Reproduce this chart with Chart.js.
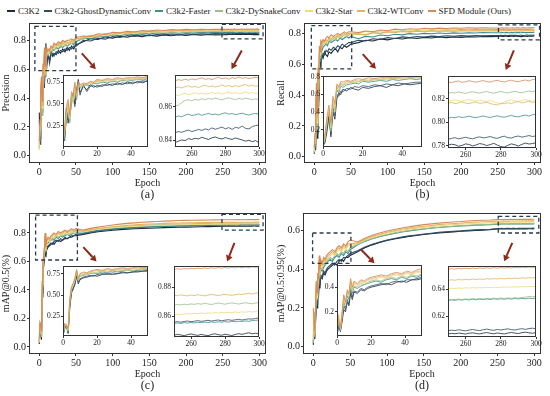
<!DOCTYPE html>
<html>
<head>
<meta charset="utf-8">
<script src="https://cdn.jsdelivr.net/npm/chart.js@4.4.1/dist/chart.umd.min.js"></script>
<style>
  body { margin: 0; width: 550px; height: 396px; background: #fff; position: relative; overflow: hidden;
         font-family: "Liberation Serif", "Times New Roman", serif; color: #222; }
  canvas { position: absolute; }
  #legend { position: absolute; left: 7px; top: 6px; display: flex; font-size: 9px; white-space: nowrap; }
  #legend .item { display: flex; align-items: center; margin-right: 4px; }
  #legend i { display: inline-block; width: 8px; height: 2px; margin-right: 3px; }
  .cap { position: absolute; font-size: 12px; transform: translateX(-50%); }
</style>
</head>
<body>
<div id="legend"></div>
<script>
// epochs sampled along the curves
const EPOCHS = [0,1,2,3,4,5,6,7,8,9,10,12,14,16,18,20,23,26,29,32,35,38,41,44,47,50,
  60,70,80,90,100,110,120,130,140,150,160,170,180,190,200,210,220,230,240,
  250,252,254,256,258,260,262,264,266,268,270,272,274,276,278,280,282,284,286,288,290,292,294,296,298,300];

const SERIES = ['C3K2', 'C3k2-GhostDynamicConv', 'C3k2-Faster', 'C3k2-DySnakeConv', 'C3k2-Star', 'C3k2-WTConv', 'SFD Module (Ours)'];
const COLORS = ['#1c2a3a', '#2f4b66', '#3e8e8c', '#9bbf8a', '#eed97c', '#e3b462', '#d68a58'];

// (a) Precision
const precC3K2 = [0.30,0.12,0.45,0.28,0.40,0.55,0.62,0.50,0.66,0.78,0.63,0.70,0.66,0.72,0.69,0.71,0.70,0.73,0.71,0.74,0.72,0.75,0.73,0.76,0.74,0.77,
  0.79,0.812,0.806,0.824,0.815,0.828,0.821,0.834,0.826,0.836,0.829,0.838,0.832,0.839,0.834,0.841,0.836,0.84,0.838,
  0.8385,0.8395,0.8402,0.8398,0.841,0.8405,0.8412,0.8408,0.8418,0.8411,0.8405,0.8415,0.842,0.8412,0.8408,0.8416,0.841,0.8405,0.8414,0.8408,0.8402,0.8395,0.840,0.8392,0.8398,0.8385];
const precGhost = [0.25,0.08,0.40,0.32,0.35,0.52,0.58,0.47,0.64,0.76,0.60,0.72,0.64,0.70,0.71,0.69,0.72,0.71,0.73,0.72,0.74,0.73,0.75,0.74,0.76,0.76,
  0.80,0.795,0.815,0.808,0.826,0.82,0.833,0.827,0.838,0.832,0.84,0.836,0.844,0.839,0.845,0.841,0.846,0.843,0.847,
  0.8445,0.8452,0.8448,0.8455,0.8461,0.8452,0.8458,0.8465,0.8459,0.8468,0.8462,0.8474,0.8466,0.8472,0.8479,0.8468,0.8476,0.8465,0.8478,0.8472,0.8485,0.8471,0.8468,0.8482,0.8488,0.8492];
const precFaster = [0.05,0.15,0.30,0.42,0.30,0.58,0.52,0.66,0.55,0.70,0.68,0.71,0.72,0.70,0.74,0.73,0.75,0.74,0.76,0.75,0.77,0.76,0.77,0.78,0.77,0.79,
  0.815,0.81,0.828,0.822,0.837,0.832,0.844,0.838,0.848,0.843,0.851,0.847,0.853,0.849,0.854,0.851,0.856,0.852,0.855,
  0.8538,0.8545,0.8541,0.855,0.8556,0.8548,0.8552,0.8558,0.8549,0.8555,0.8561,0.8553,0.8557,0.8551,0.8559,0.8564,0.8556,0.856,0.8553,0.8558,0.8562,0.8555,0.8551,0.8557,0.856,0.8556];
const precDySnake = [0.06,0.20,0.35,0.50,0.28,0.60,0.55,0.68,0.58,0.72,0.70,0.73,0.71,0.74,0.73,0.76,0.74,0.77,0.75,0.78,0.76,0.78,0.77,0.79,0.78,0.80,
  0.81,0.826,0.822,0.838,0.834,0.847,0.842,0.852,0.848,0.856,0.851,0.858,0.855,0.861,0.857,0.862,0.859,0.863,0.861,
  0.8605,0.861,0.8625,0.8638,0.8642,0.8636,0.8645,0.864,0.8648,0.8643,0.865,0.8645,0.8652,0.8646,0.8641,0.8649,0.8654,0.8647,0.8643,0.865,0.8645,0.8652,0.8648,0.8642,0.8647,0.8644];
const precStar = [0.04,0.18,0.38,0.45,0.33,0.62,0.50,0.70,0.60,0.68,0.72,0.70,0.74,0.73,0.75,0.74,0.77,0.75,0.78,0.76,0.78,0.77,0.79,0.78,0.80,0.80,
  0.826,0.82,0.838,0.832,0.848,0.843,0.853,0.849,0.858,0.854,0.862,0.857,0.864,0.861,0.866,0.863,0.867,0.865,0.868,
  0.8672,0.8668,0.8676,0.8681,0.8673,0.8678,0.8684,0.8677,0.8682,0.8675,0.868,0.8686,0.8679,0.8684,0.8676,0.8682,0.8688,0.868,0.8685,0.8678,0.8683,0.8689,0.8681,0.8686,0.8679,0.8684];
const precWT = [0.08,0.22,0.42,0.52,0.35,0.58,0.63,0.72,0.56,0.74,0.69,0.73,0.72,0.75,0.74,0.77,0.76,0.78,0.77,0.79,0.78,0.79,0.78,0.80,0.79,0.81,
  0.818,0.834,0.829,0.847,0.842,0.855,0.85,0.86,0.856,0.864,0.861,0.868,0.864,0.87,0.867,0.872,0.869,0.873,0.871,
  0.8712,0.8718,0.8713,0.872,0.8726,0.8717,0.8722,0.8715,0.8724,0.8729,0.872,0.8725,0.8718,0.8723,0.8731,0.8722,0.8727,0.8719,0.8726,0.8721,0.8728,0.8733,0.8724,0.8729,0.8722,0.8727];
const precSFD = [0.10,0.25,0.48,0.55,0.38,0.64,0.60,0.75,0.62,0.76,0.72,0.74,0.73,0.76,0.75,0.78,0.77,0.79,0.78,0.80,0.79,0.80,0.80,0.81,0.80,0.82,
  0.83,0.826,0.845,0.84,0.856,0.852,0.862,0.858,0.867,0.864,0.871,0.868,0.874,0.871,0.876,0.873,0.877,0.875,0.877,
  0.8755,0.8762,0.8758,0.8765,0.8759,0.8767,0.8761,0.8768,0.8773,0.8764,0.8769,0.8762,0.8771,0.8776,0.8767,0.8772,0.8765,0.8774,0.8769,0.8778,0.877,0.8775,0.8768,0.8773,0.8777,0.8771];

// (b) Recall
const recC3K2 = [0.02,0.05,0.18,0.35,0.12,0.40,0.32,0.55,0.62,0.60,0.66,0.64,0.68,0.66,0.65,0.68,0.67,0.69,0.70,0.68,0.71,0.70,0.72,0.71,0.72,0.73,
  0.74,0.755,0.75,0.764,0.758,0.768,0.763,0.771,0.767,0.774,0.77,0.776,0.772,0.777,0.774,0.779,0.776,0.78,0.779,
  0.7805,0.7812,0.7808,0.7795,0.7802,0.7815,0.781,0.7798,0.7806,0.7818,0.7812,0.7801,0.7809,0.782,0.7805,0.7792,0.7788,0.7803,0.7815,0.7808,0.7797,0.7811,0.7822,0.7814,0.7818,0.7825];
const recGhost = [0.03,0.08,0.22,0.38,0.15,0.45,0.36,0.60,0.58,0.64,0.63,0.67,0.66,0.69,0.68,0.70,0.69,0.71,0.70,0.72,0.71,0.73,0.72,0.73,0.74,0.74,
  0.755,0.75,0.765,0.76,0.772,0.767,0.777,0.772,0.78,0.776,0.782,0.779,0.784,0.781,0.785,0.783,0.786,0.784,0.786,
  0.7855,0.7862,0.7868,0.7858,0.7865,0.7872,0.7864,0.7858,0.7869,0.7875,0.7866,0.7871,0.7878,0.7868,0.7862,0.7874,0.7881,0.7868,0.7865,0.7876,0.7882,0.7873,0.7879,0.7886,0.7878,0.7884];
const recFaster = [0.02,0.10,0.25,0.30,0.20,0.50,0.42,0.65,0.62,0.70,0.68,0.71,0.72,0.73,0.72,0.75,0.74,0.75,0.76,0.75,0.77,0.76,0.77,0.78,0.77,0.78,
  0.765,0.78,0.776,0.789,0.784,0.794,0.79,0.798,0.794,0.8,0.797,0.802,0.799,0.803,0.801,0.804,0.802,0.805,0.804,
  0.8035,0.8042,0.8038,0.8048,0.8041,0.8045,0.8052,0.8044,0.8039,0.8047,0.8054,0.8046,0.8041,0.8049,0.8055,0.8047,0.8043,0.8051,0.8058,0.8049,0.8046,0.8055,0.8061,0.8052,0.8064,0.8068];
const recDySnake = [0.04,0.12,0.28,0.42,0.18,0.48,0.45,0.68,0.64,0.72,0.70,0.73,0.74,0.73,0.75,0.76,0.75,0.77,0.76,0.78,0.77,0.78,0.79,0.78,0.79,0.79,
  0.795,0.79,0.806,0.801,0.812,0.808,0.816,0.813,0.819,0.816,0.821,0.819,0.823,0.821,0.824,0.823,0.825,0.824,0.826,
  0.8248,0.8255,0.8249,0.8258,0.8252,0.8246,0.8255,0.8261,0.8253,0.8249,0.8257,0.8262,0.8254,0.8248,0.8256,0.8263,0.8255,0.825,0.8258,0.8264,0.8256,0.8252,0.826,0.8266,0.8262,0.8268];
const recStar = [0.03,0.09,0.30,0.45,0.22,0.52,0.40,0.70,0.66,0.71,0.72,0.74,0.73,0.75,0.74,0.76,0.77,0.76,0.78,0.77,0.78,0.79,0.78,0.79,0.80,0.79,
  0.80,0.812,0.806,0.815,0.809,0.817,0.812,0.818,0.814,0.819,0.815,0.82,0.816,0.82,0.817,0.82,0.818,0.82,0.819,
  0.8188,0.8182,0.8191,0.8185,0.8179,0.8188,0.8194,0.8186,0.8181,0.819,0.8183,0.8177,0.8186,0.8175,0.8168,0.8155,0.8172,0.8184,0.8191,0.8182,0.8176,0.8187,0.8193,0.8185,0.8179,0.8192];
const recWT = [0.05,0.14,0.32,0.40,0.25,0.55,0.48,0.66,0.70,0.73,0.71,0.75,0.74,0.76,0.75,0.77,0.76,0.78,0.77,0.79,0.78,0.79,0.80,0.79,0.80,0.80,
  0.796,0.79,0.804,0.799,0.809,0.805,0.812,0.808,0.814,0.81,0.815,0.812,0.816,0.813,0.817,0.815,0.817,0.816,0.817,
  0.8162,0.8171,0.8158,0.8166,0.8175,0.8163,0.8158,0.8169,0.8174,0.8161,0.8166,0.8172,0.816,0.8152,0.8148,0.8162,0.8158,0.8167,0.8159,0.8171,0.8177,0.8165,0.8172,0.8181,0.8168,0.8174];
const recSFD = [0.06,0.15,0.35,0.48,0.28,0.58,0.50,0.72,0.68,0.75,0.74,0.76,0.75,0.77,0.78,0.77,0.79,0.78,0.79,0.80,0.79,0.80,0.81,0.80,0.81,0.81,
  0.805,0.815,0.81,0.822,0.817,0.827,0.823,0.83,0.827,0.832,0.829,0.834,0.831,0.835,0.833,0.836,0.834,0.836,0.835,
  0.8345,0.8338,0.8348,0.8352,0.8341,0.8346,0.8355,0.8348,0.8342,0.835,0.8356,0.8347,0.8343,0.8352,0.8358,0.8349,0.8344,0.8353,0.8359,0.835,0.8346,0.8355,0.8361,0.8352,0.8365,0.8368];

// (c) mAP@0.5
const map50C3K2 = [0.02,0.12,0.14,0.05,0.35,0.52,0.58,0.62,0.72,0.63,0.68,0.70,0.71,0.72,0.73,0.72,0.74,0.75,0.74,0.75,0.76,0.76,0.77,0.77,0.78,0.78,
  0.79,0.80,0.808,0.814,0.819,0.823,0.826,0.829,0.831,0.833,0.835,0.837,0.838,0.84,0.841,0.842,0.843,0.844,0.845,
  0.8472,0.8478,0.8474,0.8469,0.8476,0.8481,0.8475,0.8471,0.8478,0.8473,0.8469,0.8477,0.8482,0.8476,0.8472,0.8479,0.8474,0.847,0.8477,0.8483,0.8478,0.8484,0.8489,0.8482,0.8486,0.8481];
const map50Ghost = [0.03,0.10,0.15,0.06,0.38,0.55,0.56,0.64,0.74,0.65,0.69,0.71,0.72,0.73,0.72,0.74,0.75,0.74,0.76,0.75,0.77,0.76,0.77,0.78,0.78,0.79,
  0.795,0.806,0.814,0.821,0.826,0.83,0.834,0.837,0.839,0.842,0.844,0.846,0.847,0.849,0.85,0.851,0.852,0.853,0.854,
  0.8562,0.8565,0.8561,0.8566,0.8569,0.8564,0.8568,0.8572,0.8567,0.857,0.8574,0.8569,0.8573,0.8576,0.8571,0.8575,0.8578,0.8574,0.8577,0.8581,0.8576,0.858,0.8584,0.8582,0.8587,0.859];
const map50Faster = [0.04,0.14,0.12,0.08,0.40,0.56,0.60,0.66,0.76,0.66,0.72,0.73,0.74,0.75,0.76,0.75,0.77,0.76,0.78,0.77,0.78,0.79,0.78,0.79,0.80,0.80,
  0.80,0.81,0.818,0.824,0.829,0.833,0.836,0.839,0.841,0.843,0.845,0.847,0.848,0.85,0.851,0.852,0.853,0.854,0.855,
  0.8552,0.8556,0.8553,0.8558,0.8555,0.8559,0.8556,0.8561,0.8558,0.8562,0.8559,0.8563,0.856,0.8564,0.8561,0.8565,0.8562,0.8567,0.8564,0.8568,0.8566,0.857,0.8567,0.8572,0.8574,0.8576];
const map50DySnake = [0.05,0.15,0.13,0.07,0.42,0.58,0.62,0.68,0.78,0.68,0.73,0.74,0.75,0.76,0.75,0.77,0.78,0.77,0.79,0.78,0.79,0.80,0.79,0.80,0.81,0.81,
  0.81,0.82,0.828,0.834,0.839,0.843,0.847,0.85,0.852,0.855,0.857,0.859,0.861,0.862,0.863,0.865,0.866,0.867,0.868,
  0.8678,0.8682,0.8679,0.8684,0.8681,0.8686,0.8683,0.8688,0.8684,0.869,0.8686,0.8682,0.8687,0.8692,0.8688,0.8684,0.8689,0.8693,0.8689,0.8685,0.869,0.8694,0.869,0.8687,0.8692,0.8695];
const map50Star = [0.03,0.13,0.16,0.09,0.44,0.57,0.61,0.67,0.77,0.67,0.72,0.75,0.74,0.76,0.77,0.76,0.78,0.79,0.78,0.79,0.80,0.79,0.80,0.81,0.80,0.81,
  0.808,0.818,0.826,0.832,0.837,0.841,0.844,0.847,0.849,0.851,0.853,0.855,0.856,0.857,0.858,0.859,0.86,0.861,0.862,
  0.8612,0.8616,0.8613,0.8618,0.8621,0.8617,0.8622,0.8619,0.8624,0.862,0.8625,0.8622,0.8627,0.8623,0.8628,0.8625,0.8629,0.8626,0.8631,0.8627,0.8632,0.8629,0.8634,0.8631,0.8636,0.8638];
const map50WT = [0.04,0.16,0.14,0.10,0.45,0.59,0.63,0.69,0.79,0.69,0.74,0.76,0.75,0.77,0.78,0.79,0.78,0.80,0.79,0.80,0.81,0.80,0.81,0.82,0.81,0.82,
  0.812,0.823,0.831,0.838,0.844,0.849,0.853,0.857,0.86,0.863,0.865,0.867,0.869,0.87,0.871,0.872,0.873,0.874,0.874,
  0.8746,0.8742,0.8748,0.8744,0.8741,0.8747,0.8743,0.8749,0.8745,0.8741,0.8746,0.8751,0.8747,0.8743,0.8748,0.8752,0.8748,0.8744,0.8749,0.8753,0.875,0.8755,0.8758,0.8754,0.8759,0.8762];
const map50SFD = [0.06,0.17,0.15,0.11,0.46,0.60,0.64,0.70,0.80,0.70,0.75,0.77,0.76,0.78,0.79,0.80,0.79,0.81,0.80,0.81,0.82,0.81,0.82,0.83,0.82,0.83,
  0.82,0.832,0.841,0.849,0.856,0.862,0.867,0.871,0.875,0.878,0.88,0.883,0.885,0.887,0.888,0.889,0.89,0.891,0.892,
  0.8922,0.8926,0.8923,0.8928,0.8925,0.8929,0.8926,0.893,0.8927,0.8932,0.8928,0.8933,0.8929,0.8934,0.893,0.8935,0.8931,0.8936,0.8932,0.8937,0.8933,0.8938,0.8934,0.8939,0.8936,0.894];

// (d) mAP@0.5:0.95
const mapC3K2 = [0.01,0.10,0.04,0.12,0.22,0.20,0.28,0.25,0.35,0.30,0.36,0.35,0.38,0.37,0.39,0.40,0.41,0.42,0.43,0.42,0.44,0.45,0.44,0.46,0.46,0.47,
  0.49,0.51,0.525,0.537,0.547,0.555,0.562,0.568,0.573,0.578,0.582,0.586,0.589,0.592,0.595,0.597,0.599,0.601,0.603,
  0.6068,0.6072,0.6069,0.6074,0.6071,0.6067,0.6073,0.6076,0.6071,0.6068,0.6074,0.6078,0.6073,0.6069,0.6075,0.6071,0.6068,0.6074,0.6079,0.6074,0.6071,0.6077,0.6081,0.6076,0.6073,0.6078];
const mapGhost = [0.02,0.08,0.05,0.14,0.25,0.22,0.30,0.26,0.38,0.32,0.37,0.36,0.39,0.38,0.40,0.41,0.42,0.43,0.42,0.44,0.45,0.44,0.46,0.46,0.47,0.48,
  0.495,0.514,0.528,0.54,0.55,0.558,0.565,0.571,0.576,0.581,0.585,0.589,0.592,0.595,0.597,0.6,0.602,0.604,0.605,
  0.6092,0.6096,0.6093,0.6099,0.6095,0.6091,0.6097,0.6101,0.6096,0.6093,0.6099,0.6104,0.6098,0.6095,0.6101,0.6097,0.6102,0.6106,0.61,0.6097,0.6103,0.6107,0.6102,0.6108,0.6111,0.6106];
const mapFaster = [0.03,0.12,0.06,0.16,0.28,0.24,0.33,0.30,0.40,0.35,0.40,0.39,0.41,0.42,0.43,0.44,0.45,0.44,0.46,0.47,0.46,0.48,0.47,0.49,0.48,0.50,
  0.525,0.543,0.556,0.567,0.576,0.584,0.591,0.597,0.602,0.607,0.611,0.614,0.617,0.62,0.622,0.624,0.626,0.628,0.629,
  0.6318,0.6322,0.6319,0.6324,0.6321,0.6325,0.6322,0.6327,0.6323,0.6328,0.6324,0.6329,0.6325,0.633,0.6326,0.6331,0.6327,0.6332,0.6328,0.6333,0.6329,0.6334,0.633,0.6335,0.6332,0.6336];
const mapDySnake = [0.02,0.14,0.05,0.18,0.30,0.26,0.35,0.31,0.42,0.36,0.41,0.40,0.43,0.42,0.44,0.45,0.46,0.45,0.47,0.48,0.47,0.49,0.48,0.50,0.49,0.51,
  0.527,0.545,0.558,0.569,0.578,0.586,0.593,0.599,0.604,0.608,0.612,0.616,0.619,0.621,0.624,0.626,0.628,0.629,0.631,
  0.6322,0.6326,0.6324,0.6328,0.6325,0.6329,0.6327,0.6331,0.6328,0.6332,0.6329,0.6333,0.6331,0.6335,0.6332,0.6336,0.6333,0.6337,0.6334,0.6338,0.6336,0.634,0.6342,0.6348,0.6345,0.635];
const mapStar = [0.04,0.15,0.07,0.17,0.32,0.25,0.36,0.33,0.44,0.37,0.43,0.41,0.44,0.43,0.45,0.46,0.47,0.48,0.47,0.49,0.50,0.49,0.51,0.50,0.52,0.52,
  0.532,0.55,0.564,0.575,0.585,0.593,0.6,0.606,0.611,0.615,0.619,0.623,0.626,0.629,0.631,0.634,0.636,0.637,0.639,
  0.6406,0.6409,0.6407,0.6411,0.6408,0.6412,0.641,0.6413,0.6411,0.6414,0.6412,0.6416,0.6413,0.6417,0.6414,0.6418,0.6416,0.6419,0.6417,0.642,0.6418,0.6421,0.6419,0.6423,0.6421,0.6424];
const mapWT = [0.05,0.18,0.06,0.19,0.33,0.27,0.37,0.34,0.45,0.38,0.44,0.42,0.45,0.44,0.46,0.47,0.48,0.49,0.48,0.50,0.51,0.50,0.52,0.51,0.53,0.53,
  0.535,0.554,0.568,0.58,0.59,0.598,0.605,0.611,0.617,0.621,0.625,0.629,0.632,0.635,0.637,0.64,0.642,0.644,0.645,
  0.6468,0.6472,0.6469,0.6474,0.6471,0.6475,0.6472,0.6477,0.6474,0.6478,0.6475,0.648,0.6477,0.6481,0.6478,0.6482,0.6479,0.6484,0.6481,0.6485,0.6482,0.6487,0.6484,0.6488,0.6486,0.649];
const mapSFD = [0.20,0.12,0.08,0.20,0.34,0.28,0.38,0.35,0.47,0.40,0.45,0.43,0.46,0.45,0.47,0.48,0.49,0.50,0.49,0.51,0.52,0.51,0.53,0.52,0.54,0.55,
  0.54,0.559,0.574,0.586,0.596,0.604,0.612,0.618,0.624,0.629,0.633,0.637,0.64,0.643,0.645,0.648,0.65,0.652,0.653,
  0.6551,0.6555,0.6552,0.6557,0.6554,0.6558,0.6555,0.6559,0.6556,0.656,0.6557,0.6561,0.6558,0.6562,0.6559,0.6563,0.656,0.6564,0.6561,0.6565,0.6562,0.6566,0.6563,0.6567,0.6565,0.6568];

// layout of the four panels (page pixel boxes of the plot areas)
const PANELS = [
  { vals: [precC3K2, precGhost, precFaster, precDySnake, precStar, precWT, precSFD],
    ytitle: 'Precision', cap: '(a)', left: 0, top: 20, box: {l: 29, t: 23, r: 266, b: 163}, y: [-0.05, 0.92],
    rects: [[-6, 0.59, 50, 0.896], [249, 0.81, 305, 0.91]], arrows: [[58, 0.71, 77, 0.60], [276, 0.73, 262, 0.60]],
    insets: [{box: {l: 63, t: 75, r: 148, b: 147}, x: [0, 50], y: [0.01, 0.83], step: 0.25, dec: 2},
             {box: {l: 175, t: 75, r: 259, b: 147}, x: [250, 300], y: [0.836, 0.879], step: 0.02, dec: 2}] },
  { vals: [recC3K2, recGhost, recFaster, recDySnake, recStar, recWT, recSFD],
    ytitle: 'Recall', cap: '(b)', left: 275, top: 20, box: {l: 304, t: 23, r: 541, b: 163}, y: [-0.04, 0.867],
    rects: [[-4, 0.57, 51, 0.85], [251, 0.758, 307, 0.855]], arrows: [[66, 0.665, 84, 0.57], [272, 0.69, 261, 0.563]],
    insets: [{box: {l: 323, t: 76, r: 422, b: 147}, x: [0, 50], y: [0.005, 0.81], step: 0.2, dec: 1},
             {box: {l: 448, t: 76, r: 536, b: 148}, x: [250, 300], y: [0.778, 0.8395], step: 0.02, dec: 2}] },
  { vals: [map50C3K2, map50Ghost, map50Faster, map50DySnake, map50Star, map50WT, map50SFD],
    ytitle: 'mAP@0.5(%)', cap: '(c)', left: 0, top: 200, box: {l: 29, t: 213, r: 266, b: 354}, y: [-0.05, 0.94],
    rects: [[-5, 0.61, 52, 0.925], [249, 0.82, 305, 0.93]], arrows: [[60, 0.70, 78, 0.60], [266, 0.73, 256, 0.60]],
    insets: [{box: {l: 63, t: 266, r: 148, b: 336}, x: [0, 50], y: [0.02, 0.84], step: 0.25, dec: 2},
             {box: {l: 174, t: 266, r: 259, b: 337}, x: [250, 300], y: [0.846, 0.8945], step: 0.02, dec: 2}] },
  { vals: [mapC3K2, mapGhost, mapFaster, mapDySnake, mapStar, mapWT, mapSFD],
    ytitle: 'mAP@0.5:0.95(%)', cap: '(d)', left: 275, top: 200, box: {l: 303, t: 213, r: 541, b: 354}, y: [-0.037, 0.689],
    rects: [[-1, 0.43, 51, 0.586], [251, 0.586, 306, 0.672]], arrows: [[65, 0.50, 83, 0.43], [270, 0.535, 259, 0.44]],
    insets: [{box: {l: 337, t: 265, r: 422, b: 336}, x: [0, 50], y: [0.005, 0.58], step: 0.2, dec: 1},
             {box: {l: 448, t: 266, r: 536, b: 337}, x: [250, 300], y: [0.6045, 0.6575], step: 0.02, dec: 2}] }
];

PANELS.forEach(p => p.vals.forEach((v, i) => {
  if (v.length !== EPOCHS.length) throw new Error(p.cap + ' ' + SERIES[i] + ' has ' + v.length);
}));

const FONT = '"Liberation Serif", "Times New Roman", serif';
const INK = '#222';

// legend
const legend = document.getElementById('legend');
SERIES.forEach((s, i) => {
  const it = document.createElement('span');
  it.className = 'item';
  it.innerHTML = '<i style="background:' + COLORS[i] + '"></i>' + s;
  legend.appendChild(it);
});

function makeCanvas(box, pad) {
  const c = document.createElement('canvas');
  const w = box.r - box.l + pad.l + pad.r, h = box.b - box.t + pad.t + pad.b;
  c.width = w; c.height = h;
  c.style.left = (box.l - pad.l) + 'px'; c.style.top = (box.t - pad.t) + 'px';
  c.style.width = w + 'px'; c.style.height = h + 'px';
  document.body.appendChild(c);
  return c;
}

function datasets(vals, width) {
  return vals.map((v, i) => ({
    label: SERIES[i],
    data: EPOCHS.map((e, k) => ({x: e, y: v[k]})),
    borderColor: COLORS[i], borderWidth: width,
    pointRadius: 0, tension: 0, fill: false,
    order: SERIES.length - 1 - i
  }));
}

// frame, white plot background, dashed zoom boxes and arrows
const framePlugin = {
  id: 'frame',
  beforeDatasetsDraw(chart, args, o) {
    if (!o.white) return;
    const a = chart.chartArea, ctx = chart.ctx;
    ctx.save(); ctx.fillStyle = '#fff'; ctx.fillRect(a.left, a.top, a.right - a.left, a.bottom - a.top); ctx.restore();
  },
  afterDatasetsDraw(chart, args, o) {
    const ctx = chart.ctx, sx = chart.scales.x, sy = chart.scales.y;
    ctx.save();
    (o.rects || []).forEach(r => {
      const x0 = sx.getPixelForValue(r[0]), x1 = sx.getPixelForValue(r[2]);
      const y0 = sy.getPixelForValue(r[3]), y1 = sy.getPixelForValue(r[1]);
      ctx.strokeStyle = '#2b3a4e'; ctx.lineWidth = 1.3; ctx.setLineDash([4, 3]);
      ctx.strokeRect(x0, y0, x1 - x0, y1 - y0);
    });
    ctx.setLineDash([]);
    (o.arrows || []).forEach(r => {
      const x0 = sx.getPixelForValue(r[0]), y0 = sy.getPixelForValue(r[1]);
      const x1 = sx.getPixelForValue(r[2]), y1 = sy.getPixelForValue(r[3]);
      const ang = Math.atan2(y1 - y0, x1 - x0), hl = 6, hw = 3.5;
      const bx = x1 - hl * Math.cos(ang), by = y1 - hl * Math.sin(ang);
      ctx.strokeStyle = '#8c2a1c'; ctx.fillStyle = '#8c2a1c'; ctx.lineWidth = 2;
      ctx.beginPath(); ctx.moveTo(x0, y0); ctx.lineTo(bx, by); ctx.stroke();
      ctx.beginPath(); ctx.moveTo(x1, y1);
      ctx.lineTo(bx + hw * Math.sin(ang), by - hw * Math.cos(ang));
      ctx.lineTo(bx - hw * Math.sin(ang), by + hw * Math.cos(ang));
      ctx.closePath(); ctx.fill();
    });
    const a = chart.chartArea;
    ctx.strokeStyle = '#333'; ctx.lineWidth = 1;
    ctx.strokeRect(a.left + 0.5, a.top + 0.5, a.right - a.left - 1, a.bottom - a.top - 1);
    ctx.restore();
  }
};

function axis(min, max, step, dec, size, fit, title, tick) {
  return {
    type: 'linear', min: min, max: max,
    afterFit: fit,
    ticks: { stepSize: step, includeBounds: false, autoSkip: false, maxRotation: 0, padding: 1,
             color: INK, font: {family: FONT, size: size},
             callback: v => dec >= 0 ? v.toFixed(dec) : String(v) },
    grid: { drawOnChartArea: false, tickLength: tick, color: '#333' },
    border: { display: false },
    title: { display: !!title, text: title, color: INK, font: {family: FONT, size: 10}, padding: {top: 0, bottom: 1} }
  };
}

function zeroPad(s) { s.paddingTop = 0; s.paddingBottom = 0; s.paddingLeft = 0; s.paddingRight = 0; }

function chartAt(box, pad, vals, xr, xstep, yr, ystep, ydec, size, tick, width, titles, extra) {
  const c = makeCanvas(box, pad);
  return new Chart(c, {
    type: 'line',
    data: { datasets: datasets(vals, width) },
    options: {
      responsive: false, animation: false, devicePixelRatio: 1,
      layout: { padding: {top: pad.t, right: pad.r, left: 0, bottom: 0} },
      plugins: { legend: {display: false}, tooltip: {enabled: false}, frame: extra },
      scales: {
        x: axis(xr[0], xr[1], xstep, -1, size, s => { s.height = pad.b; zeroPad(s); }, titles[0], tick),
        y: axis(yr[0], yr[1], ystep, ydec, size, s => { s.width = pad.l; zeroPad(s); }, titles[1], tick)
      }
    },
    plugins: [framePlugin]
  });
}

PANELS.forEach(p => {
  chartAt(p.box, {l: p.box.l - p.left, t: 6, r: 8, b: 27}, p.vals, [-14, 309], 50, p.y, 0.2, 1, 10, 2, 1.1,
          ['Epoch', p.ytitle], {rects: p.rects, arrows: p.arrows});
  p.insets.forEach(ins => {
    chartAt(ins.box, {l: 19, t: 5, r: 7, b: 11}, p.vals, ins.x, 20, ins.y, ins.step, ins.dec, 7.5, 2, 0.8,
            ['', ''], {white: true});
  });
  const cap = document.createElement('div');
  cap.className = 'cap';
  cap.textContent = p.cap;
  cap.style.left = ((p.box.l + p.box.r) / 2) + 'px';
  cap.style.top = (p.box.b + 24) + 'px';
  document.body.appendChild(cap);
});
</script>
</body>
</html>
